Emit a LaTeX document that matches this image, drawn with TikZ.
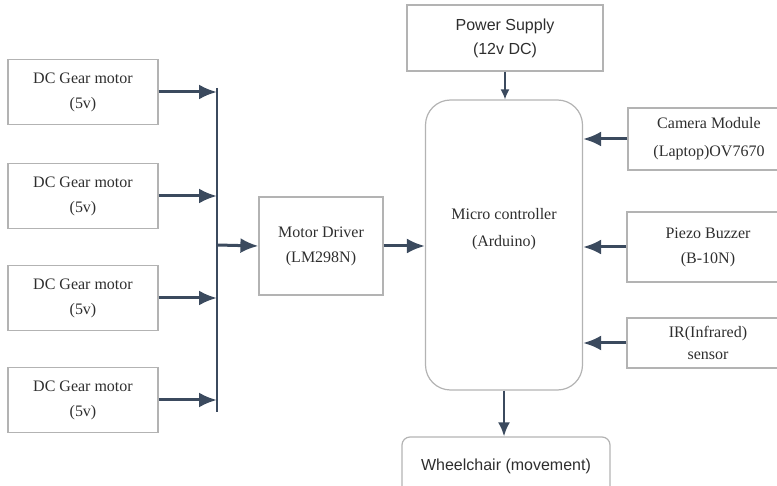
\documentclass[tikz,border=0pt]{standalone}
\usepackage{fontspec}
\setmainfont{Liberation Serif}
\newfontfamily\serf{Liberation Serif}
\newfontfamily\sansf{Liberation Sans}
\usepackage{xcolor}
\definecolor{arrowc}{HTML}{3B4A5E}
\definecolor{boxc}{HTML}{B3B3B3}
\definecolor{textc}{HTML}{2E2E2E}
\usetikzlibrary{arrows.meta}

\begin{document}
\begin{tikzpicture}[x=1pt, y=-1pt,
    blk/.style={draw=boxc, line width=1.2pt, text=textc, align=center, font=\serf\fontsize{16}{25}\selectfont},
    sblk/.style={blk, font=\sansf\fontsize{16}{24}\selectfont},
    arr/.style={draw=arrowc, line width=3pt, -{Latex[length=18pt,width=15pt]}}]
            \useasboundingbox (0,0) rectangle (777,486);

            \foreach \i/\y in {1/92, 2/196, 3/298, 4/400} {
                \node (dc\i) at (83,\y) [blk, minimum width=150, minimum height=65] {DC Gear motor\\(5v)};
            }

            \node (md) at (321,246) [blk, minimum width=124, minimum height=98] {Motor Driver\\(LM298N)};
            \node (mc) at (504,245) [blk, rounded corners=25, minimum width=157, minimum height=290] {};
            \node (mctext) at (504,229) [text=textc, align=center, font=\serf\fontsize{16}{27}\selectfont] {Micro controller\\(Arduino)};
            \node (ps) at (505,38) [sblk, minimum width=196, minimum height=66] {Power Supply\\(12v DC)};
            \node (cam) at (709,139) [blk, minimum width=162, minimum height=62, font=\serf\fontsize{16}{28}\selectfont] {Camera Module\\(Laptop)OV7670};
            \node (pz) at (708,247) [blk, minimum width=162, minimum height=70] {Piezo Buzzer\\(B-10N)};
            \node (ir) at (708,343) [blk, minimum width=162, minimum height=50, font=\serf\fontsize{16}{22}\selectfont] {IR(Infrared)\\sensor};
            \node (wc) at (506,466) [sblk, rounded corners=8, minimum width=208, minimum height=58] {Wheelchair (movement)};

            \coordinate (bt) at (217,88);
            \coordinate (bb) at (217,412);
            \coordinate (bus) at (217,245);
            \draw[arrowc, line width=2.2pt] (bt) -- (bb);

            \foreach \i in {1, 2, 3, 4} {
                \draw[arr] (dc\i.east) -- (dc\i.east -| bus);
            }

            \draw[arr] (bus) -- (md.west);
            \draw[arr] (md.east) -- (md.east -| mc.west);
            \draw[arr] (cam.west) -- (cam.west -| mc.east);
            \draw[arr] (pz.west) -- (pz.west -| mc.east);
            \draw[arr] (ir.west) -- (ir.west -| mc.east);
            \draw[arrowc, line width=1.5pt, -{Latex[length=10pt,width=9pt]}] (ps.south) -- (ps.south |- mc.north);
            \draw[arrowc, line width=2.5pt, -{Latex[length=14pt,width=12pt]}] (mc.south) -- (mc.south |- wc.north);
        \end{tikzpicture}
\end{document}
